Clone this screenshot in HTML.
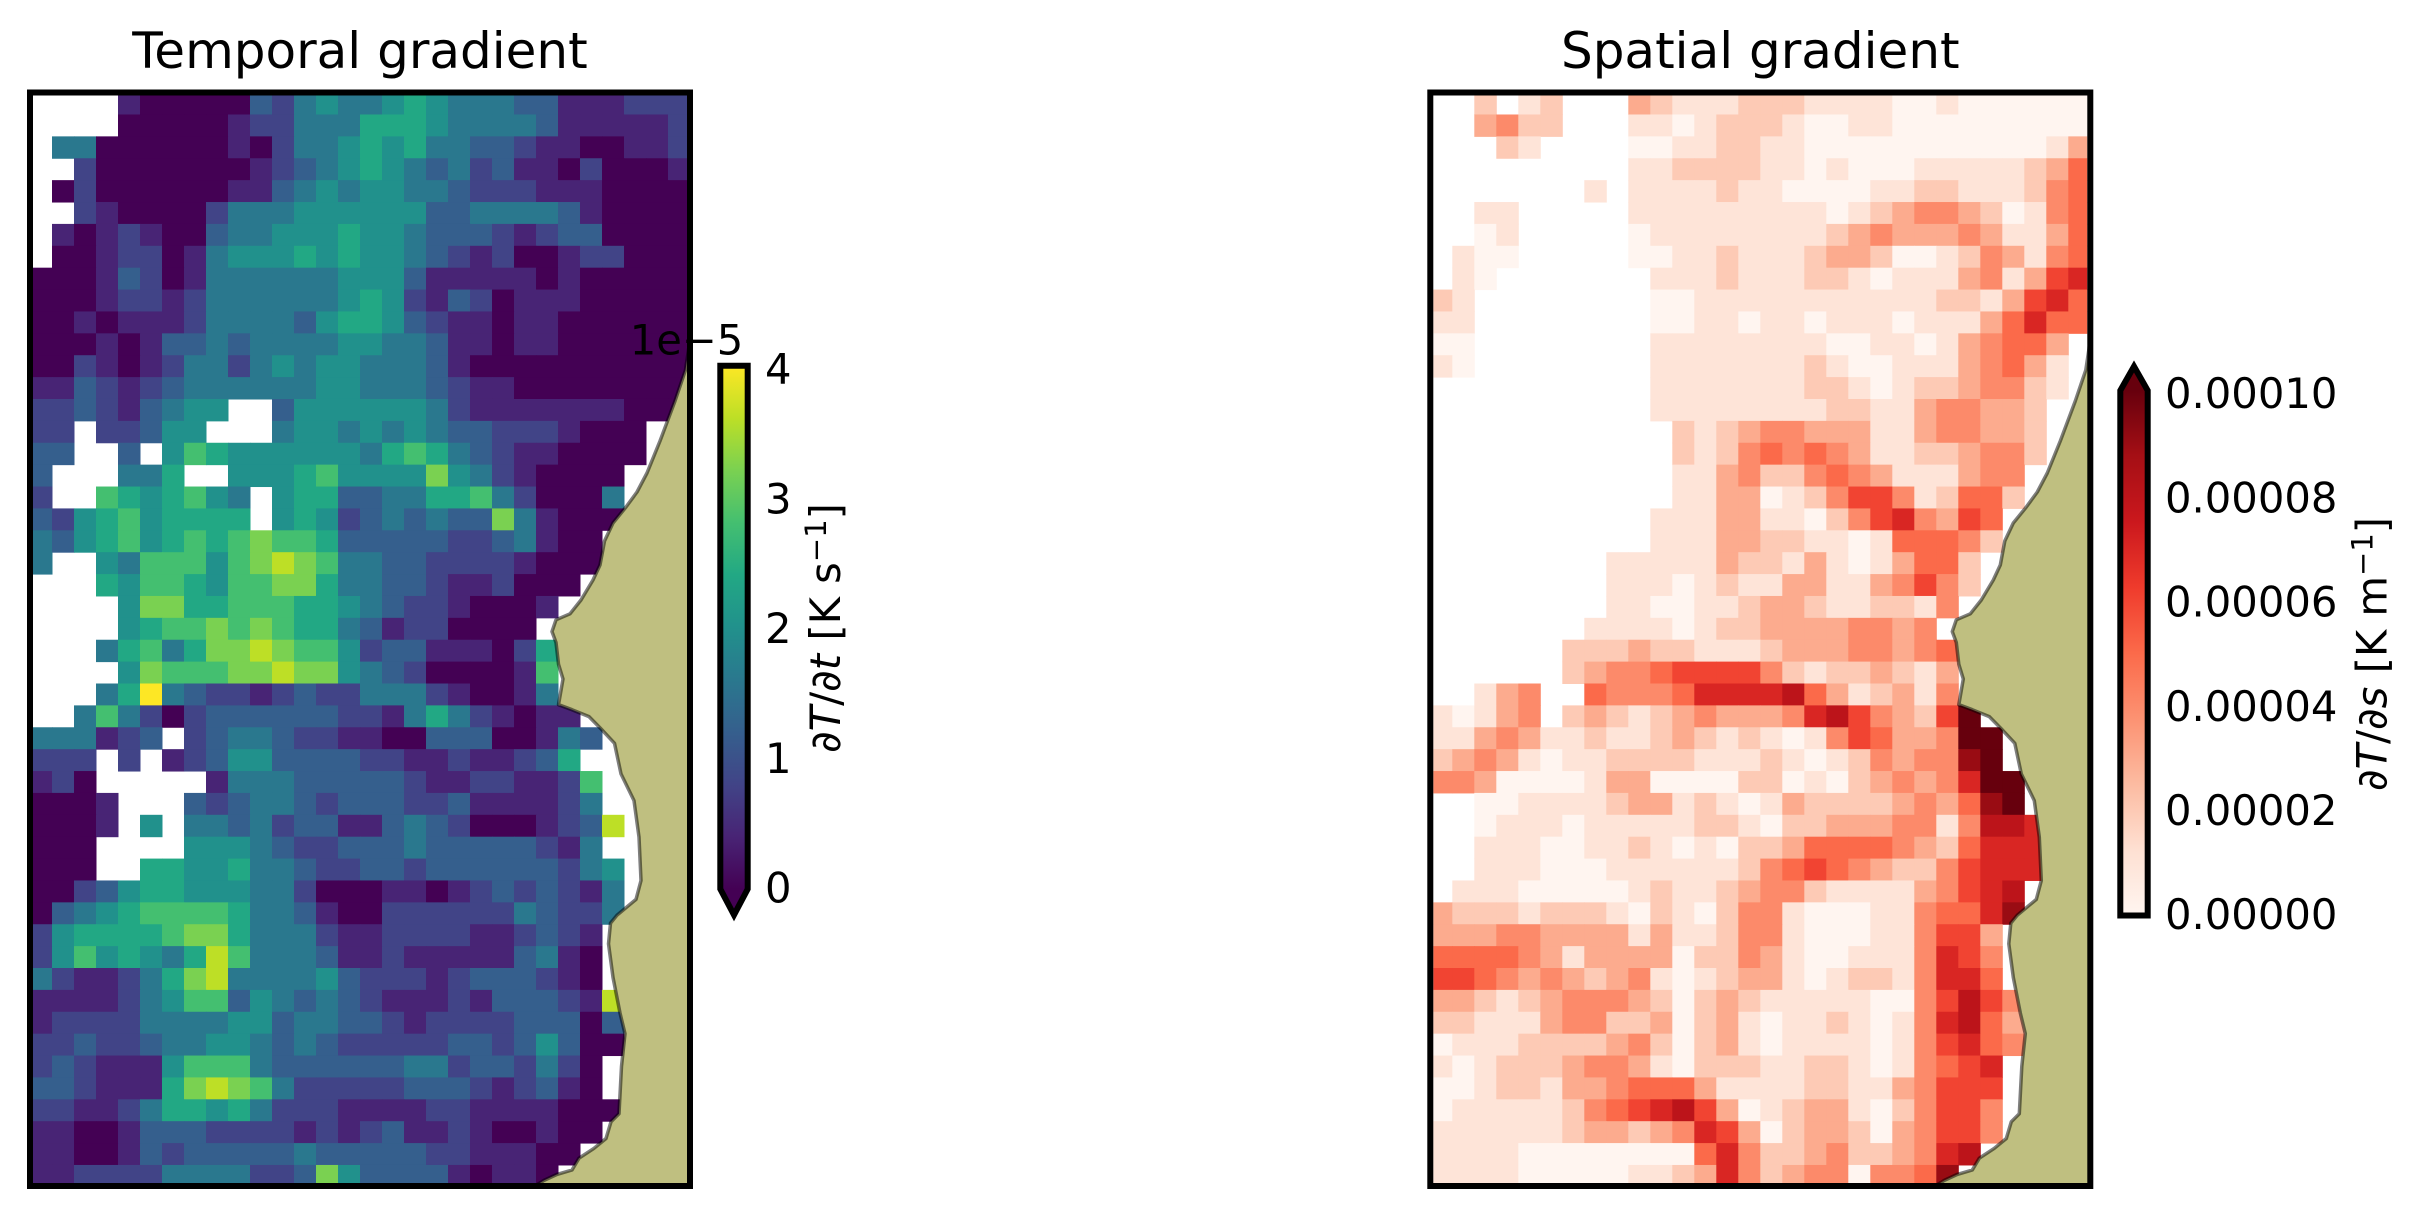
<!DOCTYPE html>
<html><head><meta charset="utf-8">
<style>
html,body{margin:0;padding:0;background:#fff;overflow:hidden;}
svg{display:block;}
text{font-family:"DejaVu Sans","Liberation Sans",sans-serif;fill:#000;}
</style></head>
<body>
<svg id="s" width="2427" height="1217" viewBox="0 0 2427 1217" xmlns="http://www.w3.org/2000/svg">
<defs>
<clipPath id="cl"><rect x="33" y="95.5" width="654" height="1087.5"/></clipPath>
<clipPath id="cr"><rect x="1433.3" y="95.5" width="654" height="1087.5"/></clipPath>
<linearGradient id="gv" x1="0" y1="1" x2="0" y2="0">
<stop offset="0" stop-color="#440154"/><stop offset="0.1" stop-color="#482475"/><stop offset="0.2" stop-color="#414487"/><stop offset="0.3" stop-color="#355f8d"/><stop offset="0.4" stop-color="#2a788e"/><stop offset="0.5" stop-color="#21918c"/><stop offset="0.6" stop-color="#22a884"/><stop offset="0.7" stop-color="#44bf70"/><stop offset="0.8" stop-color="#7ad151"/><stop offset="0.9" stop-color="#bddf26"/><stop offset="1" stop-color="#fde725"/>
</linearGradient>
<linearGradient id="gr" x1="0" y1="1" x2="0" y2="0">
<stop offset="0" stop-color="#fff5f0"/><stop offset="0.125" stop-color="#fee0d2"/><stop offset="0.25" stop-color="#fcbba1"/><stop offset="0.375" stop-color="#fc9272"/><stop offset="0.5" stop-color="#fb6a4a"/><stop offset="0.625" stop-color="#ef3b2c"/><stop offset="0.75" stop-color="#cb181d"/><stop offset="0.875" stop-color="#a50f15"/><stop offset="1" stop-color="#67000d"/>
</linearGradient>
</defs>

<!-- titles -->
<text x="360" y="68" font-size="50" text-anchor="middle">Temporal gradient</text>
<text x="1760.3" y="68" font-size="50" text-anchor="middle">Spatial gradient</text>

<!-- heatmaps -->
<g id="L" clip-path="url(#cl)"></g>
<g id="R" clip-path="url(#cr)"></g>

<!-- land -->
<g id="land"></g>

<!-- spines -->
<rect x="30" y="92.5" width="660" height="1093.5" fill="none" stroke="#000" stroke-width="6"/>
<rect x="1430.3" y="92.5" width="660" height="1093.5" fill="none" stroke="#000" stroke-width="6"/>

<!-- left colorbar -->
<rect x="720.3" y="365.7" width="27.4" height="523.3" fill="url(#gv)"/>
<polygon points="720.3,889 747.7,889 734,915" fill="#440154"/>
<polygon points="720.3,365.7 747.7,365.7 747.7,889 734,915 720.3,889" fill="none" stroke="#000" stroke-width="6" stroke-linejoin="miter"/>
<text x="629.7" y="354.5" font-size="41.7">1e−5</text>
<text x="765" y="902.5" font-size="41.7">0</text>
<text x="765" y="772.8" font-size="41.7">1</text>
<text x="765" y="643.1" font-size="41.7">2</text>
<text x="765" y="513.4" font-size="41.7">3</text>
<text x="765" y="383.7" font-size="41.7">4</text>
<text transform="translate(840,628) rotate(-90)" font-size="41.7" text-anchor="middle">∂<tspan font-style="italic">T</tspan>/∂<tspan font-style="italic">t</tspan> [K s<tspan dy="-14" font-size="29">−1</tspan><tspan dy="14">]</tspan></text>

<!-- right colorbar -->
<rect x="2120.3" y="390.5" width="27.4" height="525" fill="url(#gr)"/>
<polygon points="2120.3,390.5 2147.7,390.5 2134,366.4" fill="#67000d"/>
<polygon points="2120.3,915.5 2147.7,915.5 2147.7,390.5 2134,366.4 2120.3,390.5" fill="none" stroke="#000" stroke-width="6" stroke-linejoin="miter"/>
<text x="2165" y="929.2" font-size="41.7">0.00000</text>
<text x="2165" y="825" font-size="41.7">0.00002</text>
<text x="2165" y="720.8" font-size="41.7">0.00004</text>
<text x="2165" y="616.6" font-size="41.7">0.00006</text>
<text x="2165" y="512.4" font-size="41.7">0.00008</text>
<text x="2165" y="408.2" font-size="41.7">0.00010</text>
<text transform="translate(2386.5,654) rotate(-90)" font-size="41.7" text-anchor="middle">∂<tspan font-style="italic">T</tspan>/∂<tspan font-style="italic">s</tspan> [K m<tspan dy="-14" font-size="29">−1</tspan><tspan dy="14">]</tspan></text>
</svg>

<script>
(function(){
var Lrows=[
"....100000"+"3245445654"+"4433111222",
"....000001"+"2244466654"+"4443111112",
".440000001"+"0244565644"+"3321100112",
"..20000000"+"1234565434"+"2311020001",
".020000001"+"1345455443"+"2221110000",
"..21000024"+"4455555533"+"4444310000",
".101210034"+"4555655433"+"3212330000",
".001220145"+"5565655432"+"1200122000",
"0001320144"+"4444555311"+"1110100000",
"0001221244"+"4444565213"+"2011100000",
"0010111244"+"4435665321"+"1011000000",
"0001013343"+"4444554431"+"1011000000",
"0021012442"+"4545544431"+"0000000000",
"1132123444"+"4445544432"+"1100000000",
"223213455."+".355555542"+"1111111000",
"22.22355.."+".455454543"+"32221000..",
"33..3.5765"+"5555546764"+"32110000..",
"3...446..5"+"5567555585"+"4210000...",
"2..7656754"+".566334466"+"7420004...",
"3256756666"+".565234343"+"3841000...",
"4356756767"+"8776333332"+"234100....",
"4..5477757"+"8987443322"+"221000....",
"...6577657"+"7886443321"+"12000.....",
"....588667"+"7766543221"+"0001......",
"....567787"+"8766431220"+"000.......",
"...4674688"+"9877523311"+"1026......",
"....587778"+"8988543200"+"0017......",
"...46Y4322"+"1232244421"+"0014......",
"..47420233"+"3333221464"+"21011.....",
"444123.234"+"4322110033"+"300143....",
"222.2.1235"+"5333322112"+"11236.....",
"120.....14"+"4433333211"+"221127....",
"0001...323"+"4432333223"+"111124....",
"0001.5.443"+"4233113432"+"0001239...",
"000....555"+"4322333433"+"333214....",
"000..66556"+"4432233233"+"3333245...",
"0023566555"+"4420001101"+"2323214...",
"0345677776"+"4431002222"+"2243224...",
"2566667886"+"4442112222"+"112321....",
"2575654697"+"4443112111"+"113410....",
"4211246894"+"4445322212"+"333210....",
"1111245773"+"5434321112"+"1333219...",
"1222244445"+"5344332122"+"2233303...",
"2232234455"+"4343222223"+"3235300...",
"2321115777"+"4333333442"+"332420....",
"3321116898"+"7422222333"+"212310....",
"2211246656"+"4222111122"+"1111000...",
"1100133322"+"2212123112"+"100100....",
"1100132333"+"3343333322"+"11100.....",
"1122224444"+"2238533331"+"0110......"
];
var Rrows=[
"..2.12...3"+"2111222111"+"1001000000",
"..3422...1"+"1012221001"+"1000000000",
"...21....0"+"0112211000"+"0000000013",
".........1"+"1222211010"+"0011111235",
".......1.1"+"1112110000"+"1122111245",
"..11.....1"+"1111111101"+"2344320145",
"..01.....0"+"1111111123"+"4333431135",
".100.....0"+"0112111233"+"2001243145",
".10......."+"1112111221"+"0111341367",
"21........"+"0011111111"+"1112213675",
"11........"+"0011011011"+"1011135755",
"00........"+"1111111100"+"110134553.",
"10........"+"1111111210"+"011134531.",
".........."+"1111111221"+"012234421.",
".........."+"1111111122"+"11344332..",
".........."+".212344333"+"11344332..",
".........."+".212454543"+"11223442..",
".........."+".113422454"+"3111344...",
".........."+".113301246"+"6412552...",
".........."+"1113311024"+"674365....",
".........."+"1113322110"+"155542....",
"........11"+"1113221310"+"13552.....",
"........11"+"1012113311"+"34642.....",
"........11"+"0011233211"+"2214......",
".......111"+"1012233334"+"434.......",
"......2223"+"2211123334"+"4345......",
"......2344"+"5666642122"+"3213......",
"..134..544"+"4577778531"+"2314......",
"10134.2321"+"2343334786"+"4326Z.....",
"1134311211"+"2321210146"+"5334ZZ....",
"2343101122"+"2211121012"+"43449Z....",
"4430000133"+"0000220102"+"34347ZZ...",
"..00111123"+"3121013222"+"234359Z...",
"..01110111"+"1122102233"+"34414887..",
"..11100112"+"1010223555"+"54325777..",
"..11100011"+"1111245654"+"32246777..",
".111000001"+"2112344211"+"1134678...",
"3222122210"+"2102441000"+"1145579...",
"3334433331"+"3112441000"+"114663....",
"5555431333"+"3022431001"+"114764....",
"6654343234"+"1012331012"+"214775....",
"3321234443"+"2023211111"+"0046864...",
"2211134422"+"3023101121"+"0147853...",
"0111222234"+"2023101111"+"0146754...",
"1012223443"+"1022211221"+"014567....",
"0012213345"+"5531111221"+"134666....",
"0111112456"+"7863012331"+"024664....",
"1111112332"+"3476302332"+"034664....",
"1111000000"+"0057422342"+"23478.....",
"1111000001"+"1237423440"+"4459......"
];
var VIR=['#440154','#482475','#414487','#355f8d','#2a788e','#21918c','#22a884','#44bf70','#7ad151','#bddf26','#fde725'];
var RED=['#fff5f0','#fee0d2','#fcbba1','#fc9272','#fb6a4a','#ef3b2c','#cb181d','#a50f15','#67000d'];
function hx(c){return [parseInt(c.substr(1,2),16),parseInt(c.substr(3,2),16),parseInt(c.substr(5,2),16)];}
function cm(st,t){t=Math.max(0,Math.min(1,t));var n=st.length-1,f=t*n,i=Math.min(n-1,Math.floor(f)),u=f-i,a=hx(st[i]),b=hx(st[i+1]);
 return 'rgb('+Math.round(a[0]+(b[0]-a[0])*u)+','+Math.round(a[1]+(b[1]-a[1])*u)+','+Math.round(a[2]+(b[2]-a[2])*u)+')';}
function val(ch){if(ch==='Y'||ch==='Z')return 1;return parseInt(ch,10)/10;}
var NS='http://www.w3.org/2000/svg';
var CW=22.0, CH=21.885, Y0=92.6;
function draw(id,rows,x0,st){var g=document.getElementById(id);
 for(var r=0;r<rows.length;r++){var s=rows[r];for(var c=0;c<s.length;c++){var ch=s.charAt(c);if(ch==='.'||ch===' ')continue;
  var e=document.createElementNS(NS,'rect');e.setAttribute('x',(x0+c*CW).toFixed(2));e.setAttribute('y',(Y0+r*CH).toFixed(2));
  e.setAttribute('width',(CW+0.5).toFixed(2));e.setAttribute('height',(CH+0.5).toFixed(2));e.setAttribute('fill',cm(st,val(ch)));g.appendChild(e);}}}
draw('L',Lrows,30.0,VIR);
draw('R',Rrows,1430.3,RED);
var coast=[[690,336],[688.5,350],[685.5,370],[675,401],[660,441],[647,473],[637,492],[626,507],[613,523],[604.5,541],[600,565],[593,580],[581,600],[570,613.8],[556,619.8],[552,631.6],[556,642.5],[558.5,664.2],[563,679],[558.5,704.7],[572,709.7],[589,716.6],[601.5,729.4],[614.5,743.3],[621,773.9],[634,800.6],[639,837.1],[641,880.6],[636,899.4],[617,915.2],[610.5,923.1],[608.5,943.8],[613,977.4],[620,1013],[625,1033.7],[621.5,1066.3],[619,1113.8],[611,1121.7],[606,1138.5],[594,1148.3],[579,1158.2],[572,1170],[557,1174.4],[544,1180.4],[535,1186],[690,1186]];
var lg=document.getElementById('land');
[0,1400.3].forEach(function(dx){var p=document.createElementNS(NS,'polygon');
 p.setAttribute('points',coast.map(function(q){return (q[0]+dx).toFixed(1)+','+q[1];}).join(' '));
 p.setAttribute('fill','#bfbf80');p.setAttribute('stroke','#000');p.setAttribute('stroke-opacity','0.5');p.setAttribute('stroke-width','3.5');p.setAttribute('stroke-linejoin','round');
 lg.appendChild(p);});
})();
</script>
</body></html>
